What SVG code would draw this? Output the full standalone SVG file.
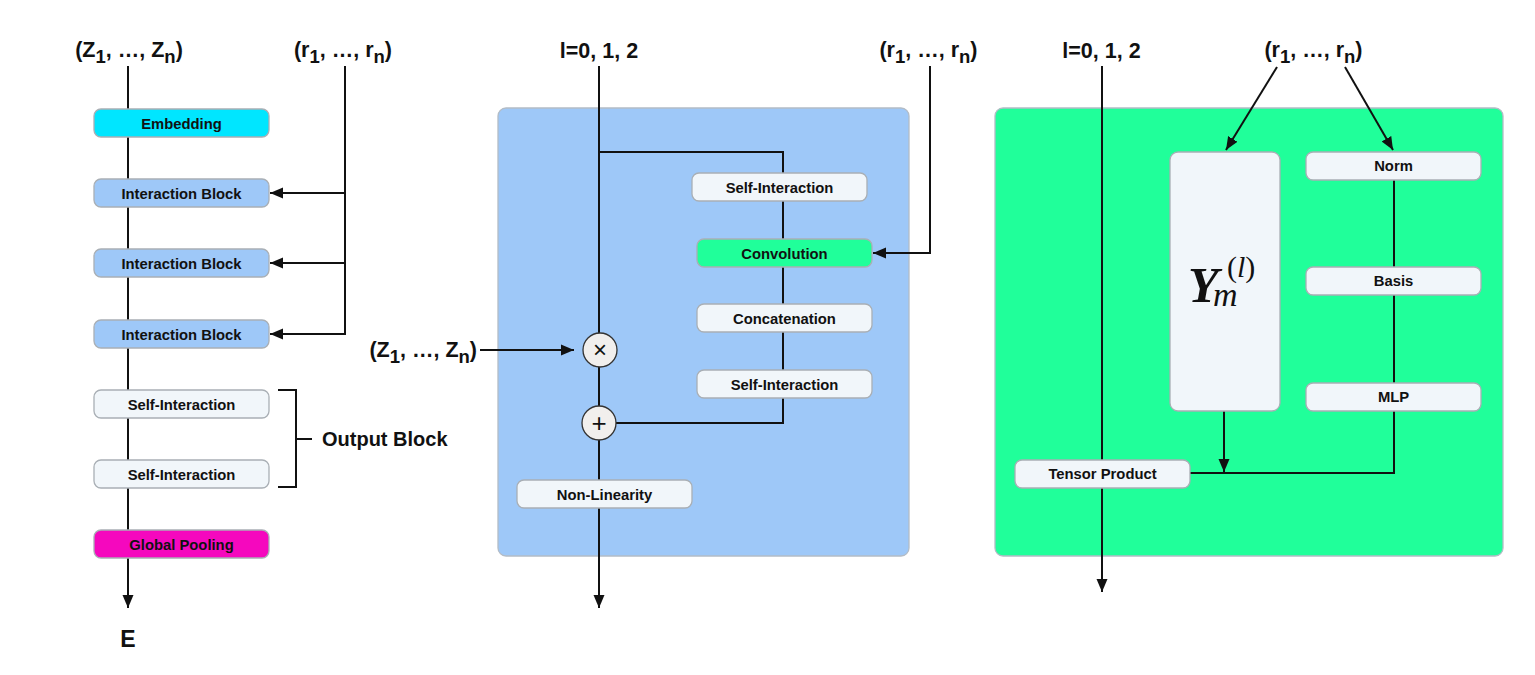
<svg xmlns="http://www.w3.org/2000/svg" width="1535" height="675" viewBox="0 0 1535 675">
<style>
text{font-family:"Liberation Sans",Arial,sans-serif;font-weight:bold;fill:#111}
.lbl{font-size:14.8px;text-anchor:middle}
.big{font-size:21.5px;text-anchor:middle}
.box{stroke:#a9afb5;stroke-width:1.3}
.plain{fill:#f1f6fa}
.ib{fill:#9ec8f8}
.ln{fill:none;stroke:#111;stroke-width:2}
.circ{fill:#f1efed;stroke:#333;stroke-width:1.3}
.math{font-family:"Liberation Serif","Times New Roman",serif;font-weight:normal}
</style>
<defs>
<marker id="ah" markerUnits="userSpaceOnUse" markerWidth="14" markerHeight="12" refX="13" refY="6" orient="auto">
<path d="M0,0.5 L13,6 L0,11.5 z" fill="#111"/>
</marker>
</defs>
<rect width="1535" height="675" fill="#ffffff"/>
<g id="panel-middle"><rect x="498" y="108" width="411" height="448" rx="8" fill="#9ec8f8" stroke="#b3bcc6" stroke-width="1.3"/></g>
<g id="panel-right"><rect x="995" y="108" width="508" height="448" rx="8" fill="#20ff9a" stroke="#b3bcc6" stroke-width="1.3"/></g>
<g id="connectors">
<path class="ln" d="M128,66 V608" marker-end="url(#ah)"/>
<path class="ln" d="M345,66 V334"/>
<path class="ln" d="M346,193 H270" marker-end="url(#ah)"/>
<path class="ln" d="M346,263 H270" marker-end="url(#ah)"/>
<path class="ln" d="M346,334 H270" marker-end="url(#ah)"/>
<path class="ln" d="M278,390 H296 V487 H278 M296,439 H312" stroke-width="1.3"/>
<path class="ln" d="M599,66 V608" marker-end="url(#ah)"/>
<path class="ln" d="M599,152 H783 V423 H599"/>
<path class="ln" d="M930,66 V253 H873" marker-end="url(#ah)"/>
<path class="ln" d="M480,350 H574" marker-end="url(#ah)"/>
<path class="ln" d="M1102,66 V592" marker-end="url(#ah)"/>
<path class="ln" d="M1277,67 L1226,150" marker-end="url(#ah)"/>
<path class="ln" d="M1345,67 L1393,150" marker-end="url(#ah)"/>
<path class="ln" d="M1394,180 V473 H1190"/>
<path class="ln" d="M1224,411 V472" marker-end="url(#ah)"/>
</g>
<g id="label-z-left"><text class="big" x="129" y="57">(Z<tspan dy="6" font-size="18.5">1</tspan><tspan dy="-6">, …, Z</tspan><tspan dy="6" font-size="18.5">n</tspan><tspan dy="-6">)</tspan></text></g>
<g id="label-r-left"><text class="big" x="343" y="57">(r<tspan dy="6" font-size="18.5">1</tspan><tspan dy="-6">, …, r</tspan><tspan dy="6" font-size="18.5">n</tspan><tspan dy="-6">)</tspan></text></g>
<g id="embedding"><rect class="box" x="94" y="109" width="175" height="28" rx="7" fill="#00e6ff"/><text class="lbl" x="181.5" y="128.5">Embedding</text></g>
<g id="ib1"><rect class="box ib" x="94" y="179" width="175" height="28" rx="7"/><text class="lbl" x="181.5" y="198.5">Interaction Block</text></g>
<g id="ib2"><rect class="box ib" x="94" y="249" width="175" height="28" rx="7"/><text class="lbl" x="181.5" y="268.5">Interaction Block</text></g>
<g id="ib3"><rect class="box ib" x="94" y="320" width="175" height="28" rx="7"/><text class="lbl" x="181.5" y="339.5">Interaction Block</text></g>
<g id="si-out1"><rect class="box plain" x="94" y="390" width="175" height="28" rx="7"/><text class="lbl" x="181.5" y="409.5">Self-Interaction</text></g>
<g id="si-out2"><rect class="box plain" x="94" y="460" width="175" height="28" rx="7"/><text class="lbl" x="181.5" y="479.5">Self-Interaction</text></g>
<g id="pooling"><rect class="box" x="94" y="530" width="175" height="28" rx="7" fill="#f508be"/><text class="lbl" x="181.5" y="549.5">Global Pooling</text></g>
<g id="output-block-label"><text x="322" y="446" font-size="20">Output Block</text></g>
<g id="label-e"><text x="128" y="647" font-size="23" text-anchor="middle">E</text></g>
<g id="label-l-mid"><text class="big" x="599" y="58">l=0, 1, 2</text></g>
<g id="label-r-mid"><text class="big" x="928.5" y="57">(r<tspan dy="6" font-size="18.5">1</tspan><tspan dy="-6">, …, r</tspan><tspan dy="6" font-size="18.5">n</tspan><tspan dy="-6">)</tspan></text></g>
<g id="label-z-mid"><text class="big" x="477" y="357" style="text-anchor:end">(Z<tspan dy="6" font-size="18.5">1</tspan><tspan dy="-6">, …, Z</tspan><tspan dy="6" font-size="18.5">n</tspan><tspan dy="-6">)</tspan></text></g>
<g id="si-mid1"><rect class="box plain" x="692" y="173" width="175" height="28" rx="7"/><text class="lbl" x="779.5" y="192.5">Self-Interaction</text></g>
<g id="convolution"><rect class="box" x="697" y="239" width="175" height="28" rx="7" fill="#20ff9a"/><text class="lbl" x="784.5" y="258.5">Convolution</text></g>
<g id="concatenation"><rect class="box plain" x="697" y="304" width="175" height="28" rx="7"/><text class="lbl" x="784.5" y="323.5">Concatenation</text></g>
<g id="si-mid2"><rect class="box plain" x="697" y="370" width="175" height="28" rx="7"/><text class="lbl" x="784.5" y="389.5">Self-Interaction</text></g>
<g id="mult"><circle class="circ" cx="600" cy="350" r="17"/><text x="600" y="358" font-size="24" style="font-weight:normal" text-anchor="middle">×</text></g>
<g id="add"><circle class="circ" cx="599" cy="423" r="17"/><text x="599" y="431.5" font-size="26" style="font-weight:normal" text-anchor="middle">+</text></g>
<g id="nonlin"><rect class="box plain" x="517" y="480" width="175" height="28" rx="7"/><text class="lbl" x="604.5" y="499.5">Non-Linearity</text></g>
<g id="label-l-right"><text class="big" x="1101.5" y="58">l=0, 1, 2</text></g>
<g id="label-r-right"><text class="big" x="1313.5" y="57">(r<tspan dy="6" font-size="18.5">1</tspan><tspan dy="-6">, …, r</tspan><tspan dy="6" font-size="18.5">n</tspan><tspan dy="-6">)</tspan></text></g>
<g id="ylm"><rect class="box plain" x="1170" y="152" width="110" height="259" rx="8"/>
<text class="math" x="1188" y="302" font-size="50"><tspan style="font-style:italic;font-weight:bold">Y</tspan><tspan x="1213" dy="4" font-size="34" style="font-style:italic">m</tspan><tspan x="1227" dy="-29" font-size="30">(</tspan><tspan font-size="30" style="font-style:italic">l</tspan><tspan font-size="30">)</tspan></text>
</g>
<g id="norm"><rect class="box plain" x="1306" y="152" width="175" height="28" rx="7"/><text class="lbl" x="1393.5" y="171">Norm</text></g>
<g id="basis"><rect class="box plain" x="1306" y="267" width="175" height="28" rx="7"/><text class="lbl" x="1393.5" y="286">Basis</text></g>
<g id="mlp"><rect class="box plain" x="1306" y="383" width="175" height="28" rx="7"/><text class="lbl" x="1393.5" y="402">MLP</text></g>
<g id="tensor"><rect class="box plain" x="1015" y="460" width="175" height="28" rx="7"/><text class="lbl" x="1102.5" y="479">Tensor Product</text></g>
</svg>
